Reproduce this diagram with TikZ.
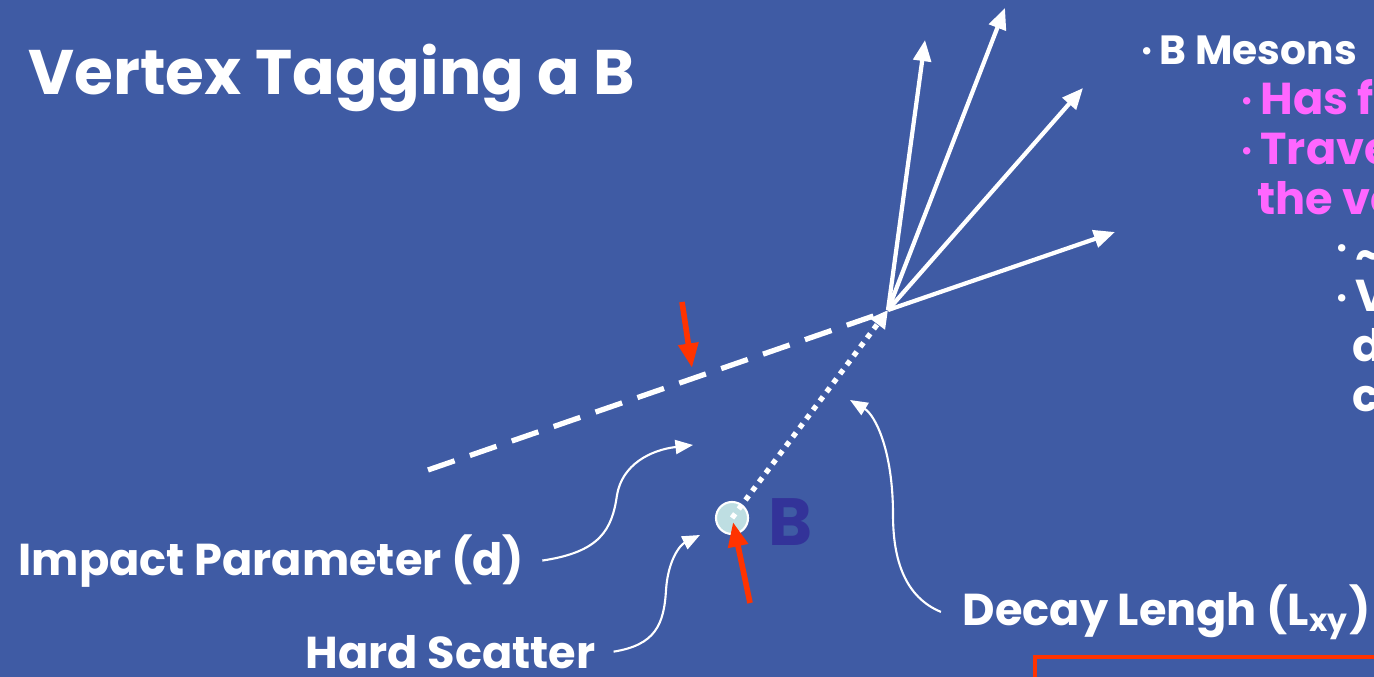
\documentclass[tikz,border=0pt]{standalone}
\usepackage{fontspec}
\setmainfont{Poppins}
\usetikzlibrary{arrows.meta}
\definecolor{slidebg}{RGB}{63,91,164}
\definecolor{hotpink}{RGB}{255,102,255}
\definecolor{markred}{RGB}{255,51,0}
\definecolor{blobfill}{RGB}{190,222,226}
\definecolor{bdark}{RGB}{51,51,153}
\newcommand{\bul}{{\fontsize{7}{7}\selectfont\raisebox{1.5pt}{•}}\,}

\begin{document}
\begin{tikzpicture}[x=0.01cm, y=-0.01cm,
  every node/.style={inner sep=0pt, font=\bfseries},
  txt/.style={anchor=base west, text=white, font=\bfseries\fontsize{12.7}{15}\selectfont},
  pink/.style={txt, text=hotpink},
  track/.style={white, line width=1.2pt, -{Triangle[length=6pt,width=5pt]}},
  pointer/.style={white, line width=0.6pt, -{Triangle[length=5pt,width=4pt]}},
  marker/.style={markred, line width=1.6pt, -{Triangle[length=7pt,width=5.5pt]}}]

\useasboundingbox (0,0) rectangle (1374,677);
\clip (0,0) rectangle (1374,677);
\fill[slidebg] (0,0) rectangle (1374,677);

% Title
\node[txt, font=\bfseries\fontsize{17.9}{21}\selectfont] (title) at (28,95) {Vertex Tagging a B};

% Bullet list (cut at the right edge)
\node[txt, font=\bfseries\fontsize{11.6}{14}\selectfont] (bmes) at (1140,65) {\bul B Mesons};
\node[pink] (hasf) at (1240,115) {\bul Has f};
\node[pink] (trav) at (1240,165) {\bul Trave};
\node[pink] (thev) at (1257,215) {the ve};
\node[txt] (tild) at (1335,262) {\bul\raisebox{-2pt}{\textasciitilde}};
\node[txt] (wl) at (1335,312) {\bul V};
\node[txt] (dl) at (1352,362) {d};
\node[txt] (cl) at (1352,412) {c};

% Vertex and tracks
\coordinate (vtx) at (888,310);
\coordinate (t1) at (1005,8);
\coordinate (t2) at (925,40);
\coordinate (t3) at (1083,88);
\coordinate (t4) at (1115,232);
\foreach \t in {t1,t2,t3,t4}
  \draw[track] (vtx) -- (\t);

% Extrapolated track
\coordinate (dstart) at (428,470);
\coordinate (dend) at (885,312);
\draw[white, line width=1.5pt, dash pattern=on 8pt off 4.6pt] (dstart) -- (dend);

% Hard scatter and B flight
\node[circle, draw=white, line width=0.6pt, fill=blobfill, minimum size=0.32cm] (pv) at (732,518) {};
\draw[white, line width=1.5pt, dash pattern=on 1.5pt off 1.7pt, -{Triangle[length=5pt,width=5pt]}] (pv.center) -- (vtx);
\node[anchor=base west, text=bdark, font=\bfseries\fontsize{19}{22}\selectfont] (blab) at (768,545) {B};

% Red markers
\coordinate (r1a) at (682,302);
\coordinate (r1b) at (692,368);
\coordinate (r2a) at (750,603);
\coordinate (r2b) at (733,522);
\draw[marker] (r1a) -- (r1b);
\draw[marker] (r2a) -- (r2b);

% Labels
\node[txt] (impact) at (18,575) {Impact Parameter (d)};
\node[txt] (hard) at (305,668) {Hard Scatter};
\node[txt] (decay) at (962,625) {Decay Lengh (L\textsubscript{xy})};

% Pointers
\coordinate (ipend) at (693,445);
\coordinate (hsend) at (700,535);
\coordinate (dlend) at (850,400);
\draw[pointer] ([xshift=5pt]impact.east) .. controls (600,552) and (612,530) .. (617,495)
  .. controls (622,465) and (650,450) .. (ipend);
\draw[pointer] ([xshift=5pt]hard.east) .. controls (655,645) and (664,625) .. (666,590)
  .. controls (668,560) and (680,545) .. (hsend);
\draw[pointer] ([xshift=-6pt]decay.west) .. controls (905,597) and (893,560) .. (893,515)
  .. controls (893,450) and (875,415) .. (dlend);

% Box
\draw[markred, line width=0.9pt] (1035,657) rectangle (1400,720);

\end{tikzpicture}
\end{document}
